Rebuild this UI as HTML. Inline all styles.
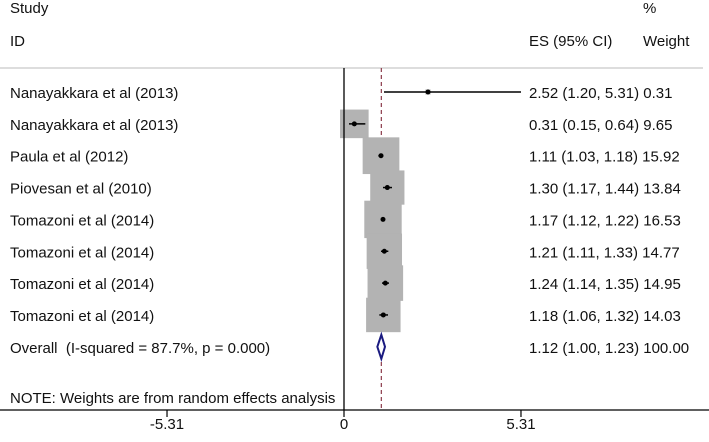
<!DOCTYPE html>
<html><head><meta charset="utf-8"><style>
body{margin:0;background:#fff;}
svg text{font-family:"Liberation Sans",Arial,sans-serif;font-size:15px;fill:#111;}
</style></head><body>
<svg width="709" height="437" id="c">
<text x="10" y="13">Study</text>
<text x="10" y="46">ID</text>
<text x="529" y="46">ES (95% CI)</text>
<text x="643" y="13">%</text>
<text x="643" y="46">Weight</text>
<line x1="0" y1="68" x2="703" y2="68" stroke="#bbb" stroke-width="1"/>
<g id="marks"></g>
</svg>
<script>
const studies=["Nanayakkara et al (2013)","Nanayakkara et al (2013)","Paula et al (2012)","Piovesan et al (2010)","Tomazoni et al (2014)","Tomazoni et al (2014)","Tomazoni et al (2014)","Tomazoni et al (2014)"];
const es=[2.52,0.31,1.11,1.30,1.17,1.21,1.24,1.18];
const lo=[1.20,0.15,1.03,1.17,1.12,1.11,1.14,1.06];
const hi=[5.31,0.64,1.18,1.44,1.22,1.33,1.35,1.32];
const weights=[0.31,9.65,15.92,13.84,16.53,14.77,14.95,14.03];
const overall=[1.12,1.00,1.23];
const ticks=[-5.31,0,5.31];
const ns="http://www.w3.org/2000/svg";
const g=document.getElementById('marks');
const X=v=>344+v*33.33;
const Y=i=>92+i*31.85;
function mk(t,a,txt){const e=document.createElementNS(ns,t);for(const k in a)e.setAttribute(k,a[k]);if(txt!==undefined)e.textContent=txt;g.appendChild(e);return e;}
const f=v=>v.toFixed(2);
let e=mk('line',{x1:X(overall[0]),x2:X(overall[0]),y1:68,y2:410,stroke:'#8b3a4a','stroke-width':1.2,'stroke-dasharray':'4,3'});


studies.forEach((s,i)=>{
  const y=Y(i);const side=9.2*Math.sqrt(weights[i]);
  let e=mk('rect',{x:X(es[i])-side/2,y:y-side/2,width:side,height:side,fill:'#b3b3b3'});
  
  
  e=mk('line',{x1:X(lo[i]),x2:X(hi[i]),y1:y,y2:y,stroke:'#000','stroke-width':1.5});
  
  
  e=mk('circle',{cx:X(es[i]),cy:y,r:2.5,fill:'#000'});
  
  
  e=mk('text',{x:10,y:y+6},s);
  
  
  e=mk('text',{x:529,y:y+6},f(es[i])+' ('+f(lo[i])+', '+f(hi[i])+') '+f(weights[i]));
  
  
});
e=mk('line',{x1:X(0),x2:X(0),y1:68,y2:410,stroke:'#000','stroke-width':1.3});


const oy=Y(8);
e=mk('polygon',{points:`${X(overall[1])},${oy} ${X(overall[0])},${oy-12} ${X(overall[2])},${oy} ${X(overall[0])},${oy+12}`,fill:'#fff',stroke:'#1a1a80','stroke-width':2});


e=mk('text',{x:10,y:oy+6},'Overall\u00a0 (I-squared = 87.7%, p = 0.000)');


e=mk('text',{x:529,y:oy+6},f(overall[0])+' ('+f(overall[1])+', '+f(overall[2])+') 100.00');


e=mk('text',{x:10,y:403},'NOTE: Weights are from random effects analysis');


e=mk('line',{x1:0,x2:709,y1:410,y2:410,stroke:'#000','stroke-width':1.3});


ticks.forEach(t=>{
  let k=mk('line',{x1:X(t),x2:X(t),y1:410,y2:417,stroke:'#000','stroke-width':1.2});
  
  
  k=mk('text',{x:X(t),y:429,'text-anchor':'middle'},String(t));
  
  
});
</script>
</body></html>
